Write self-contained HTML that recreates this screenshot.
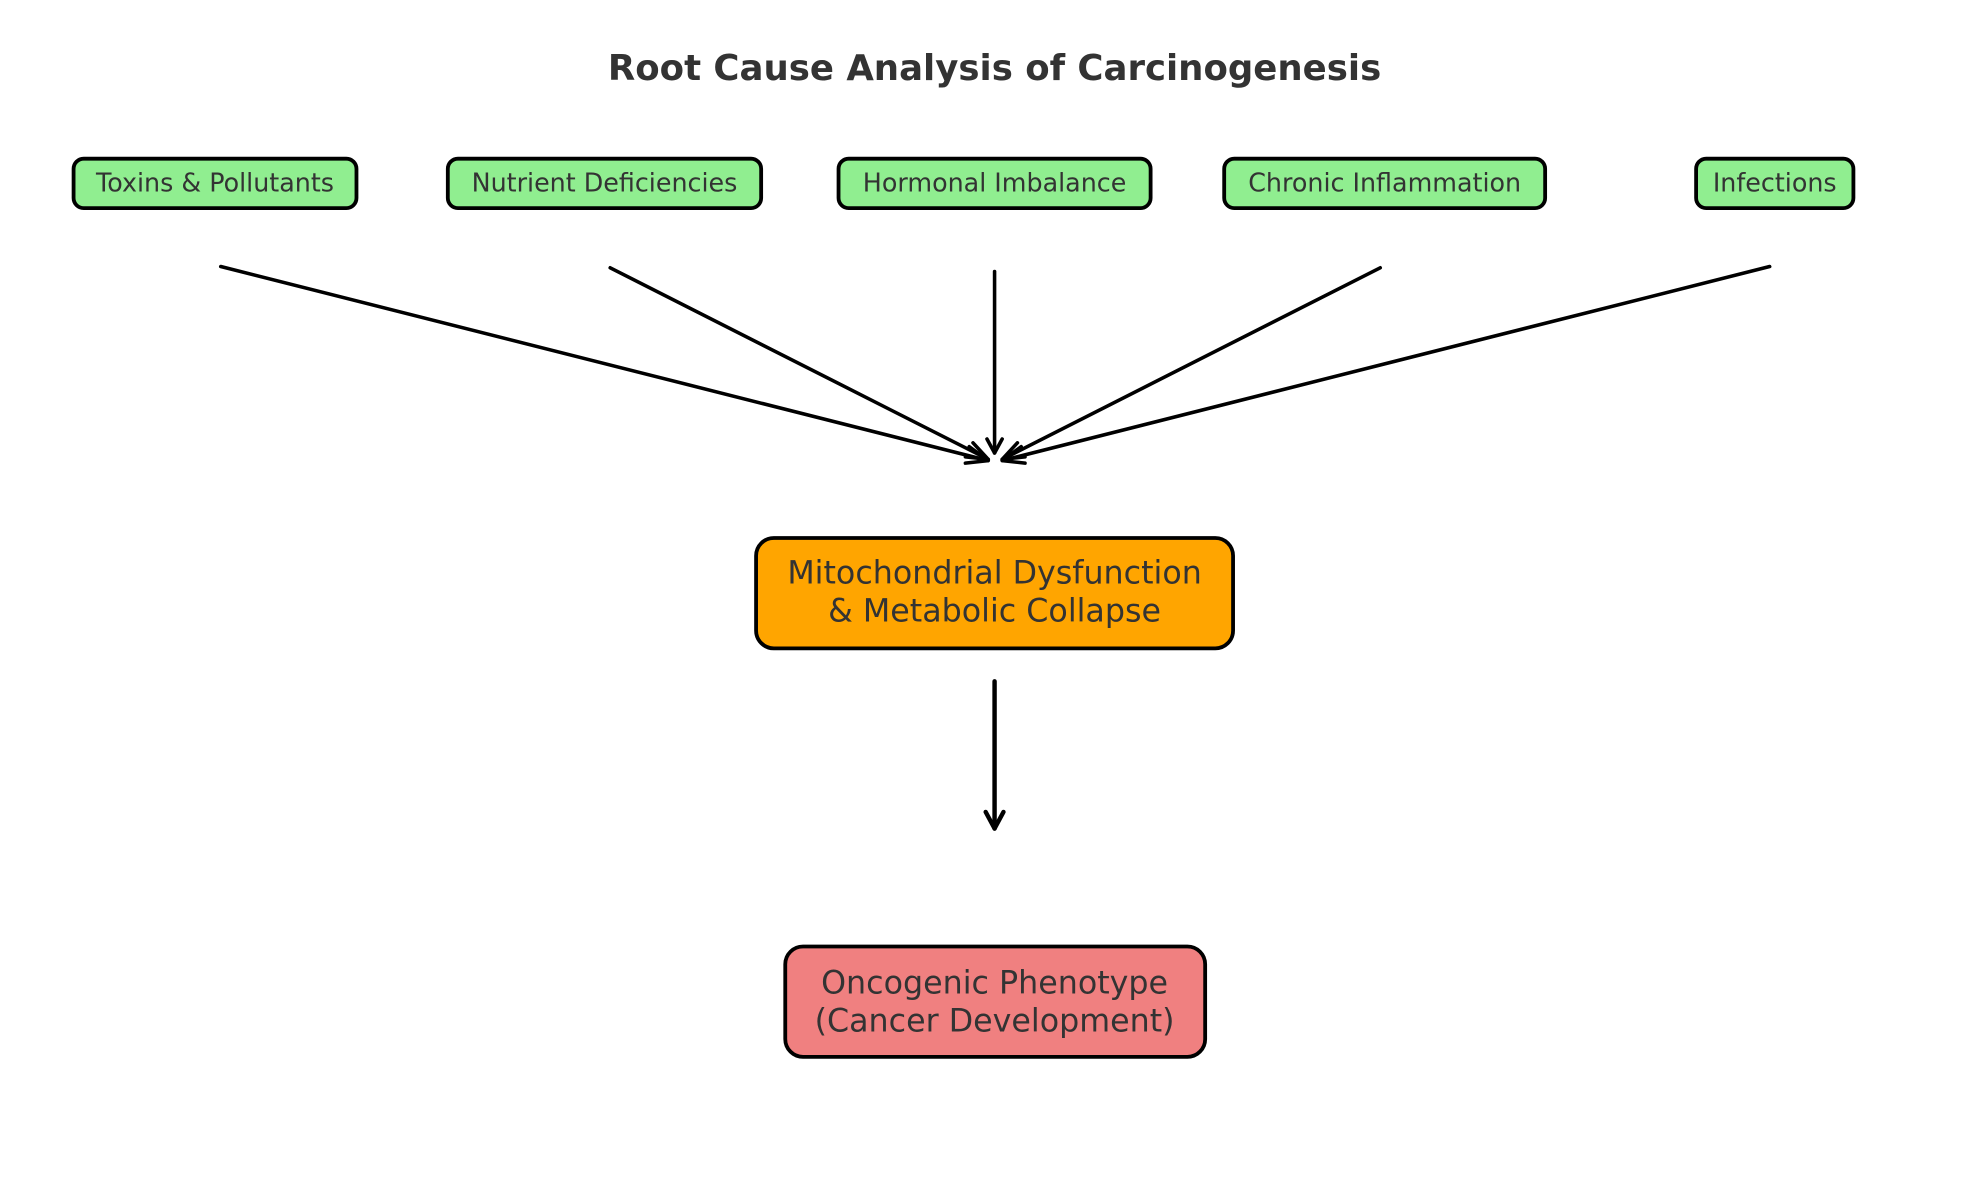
<!DOCTYPE html>
<html><head><meta charset="utf-8"><style>html,body{margin:0;padding:0;background:#fff}svg{display:block}</style></head>
<body>
<svg width="1979" height="1180" viewBox="0 0 1560 930" xmlns="http://www.w3.org/2000/svg" font-family="DejaVu Sans, Liberation Sans, sans-serif">
<rect width="1560" height="930" fill="#fff"/>
<text x="784" y="63" text-anchor="middle" font-size="28" font-weight="bold" fill="#333">Root Cause Analysis of Carcinogenesis</text>
<g fill="#90ee90" stroke="#000" stroke-width="3">
<rect x="58" y="125" width="223" height="39" rx="8"/>
<rect x="353" y="125" width="247" height="39" rx="8"/>
<rect x="661" y="125" width="246" height="39" rx="8"/>
<rect x="965" y="125" width="253" height="39" rx="8"/>
<rect x="1337" y="125" width="124" height="39" rx="8"/>
</g>
<g font-size="20" fill="#333" text-anchor="middle">
<text x="169.5" y="151">Toxins &amp; Pollutants</text>
<text x="476.5" y="151">Nutrient Deficiencies</text>
<text x="784" y="151">Hormonal Imbalance</text>
<text x="1091.5" y="151">Chronic Inflammation</text>
<text x="1399" y="151">Infections</text>
</g>
<g stroke="#000" stroke-width="2.8" fill="none" stroke-linecap="round" stroke-linejoin="round">
<line x1="174" y1="210" x2="779" y2="363"/>
<path d="M764 352 L779 363 L761 365"/>
<line x1="481" y1="211" x2="779" y2="362"/>
<path d="M767 349 L779 362 L761 360"/>
<line x1="784" y1="214" x2="784" y2="357"/>
<path d="M778 346 L784 357 L790 346"/>
<line x1="1088" y1="211" x2="790" y2="362"/>
<path d="M802 349 L790 362 L808 360"/>
<line x1="1395" y1="210" x2="790" y2="363"/>
<path d="M805 352 L790 363 L808 365"/>
<line x1="784" y1="537" x2="784" y2="653" stroke-width="3.5"/>
<path d="M777 640 L784 653 L791 640" stroke-width="3.5"/>
</g>
<rect x="596" y="424" width="376" height="87" rx="14" fill="#ffa500" stroke="#000" stroke-width="3"/>
<rect x="619" y="746" width="331" height="87" rx="14" fill="#f08080" stroke="#000" stroke-width="3"/>
<g font-size="25" fill="#333" text-anchor="middle">
<text x="784" y="460">Mitochondrial Dysfunction</text>
<text x="784" y="490">&amp; Metabolic Collapse</text>
<text x="784" y="783">Oncogenic Phenotype</text>
<text x="784" y="813">(Cancer Development)</text>
</g>
</svg>
</body></html>
